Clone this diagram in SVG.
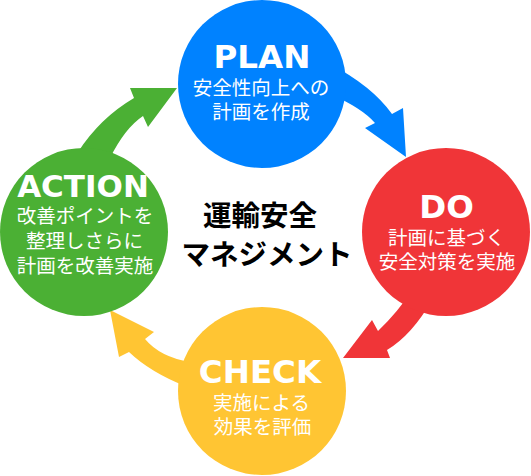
<svg xmlns="http://www.w3.org/2000/svg" width="531" height="476" viewBox="0 0 531 476">
<style>
.title{font-family:"DejaVu Sans",Verdana,sans-serif;font-weight:bold;font-size:32.5px;fill:#fff;text-anchor:middle}
.sub{font-family:"Noto Sans CJK JP","Noto Sans",sans-serif;font-size:19.5px;fill:#fff;text-anchor:middle}
.center{font-family:"Noto Sans CJK JP","Noto Sans",sans-serif;font-weight:bold;font-size:28.5px;fill:#000;text-anchor:middle}
.blue{fill:#0082FF}.red{fill:#F03538}.yellow{fill:#FFC533}.green{fill:#4BB034}
</style>
<rect width="531" height="476" fill="#fff"/>
<g id="connectors">
<path class="blue" d="M 330 64 Q 372 86 392 114 L 403 108 L 406 157 L 365 128 L 375 123 Q 362 108 330 94 Z"/>
<path class="red" d="M 412 290 Q 398 312 378 331 L 372 320 L 343 358 L 390 358 L 387 350 Q 412 335 432 300 Z"/>
<path class="yellow" d="M 190 362 Q 160 357 145 339 L 154 332 L 110 310 L 119 357 L 129 352 Q 150 372 185 386 Z"/>
<path class="green" d="M 78 152 Q 100 118 134 98 L 130 88 L 177 88 L 148 127 L 143 116 Q 125 128 110 158 Z"/>
</g>
<g id="plan">
<circle class="blue" cx="262" cy="84" r="84"/>
<text class="title" x="262" y="68">PLAN</text>
<text class="sub" x="261" y="95">安全性向上への</text>
<text class="sub" x="261" y="118.5">計画を作成</text>
</g>
<g id="do">
<circle class="red" cx="446" cy="232" r="84"/>
<text class="title" x="446.5" y="218">DO</text>
<text class="sub" x="446.5" y="244.5">計画に基づく</text>
<text class="sub" x="447" y="268.5">安全対策を実施</text>
</g>
<g id="check">
<circle class="yellow" cx="262" cy="391" r="84"/>
<text class="title" x="260" y="383">CHECK</text>
<text class="sub" x="261.5" y="409.5">実施による</text>
<text class="sub" x="262.5" y="433.5">効果を評価</text>
</g>
<g id="action">
<circle class="green" cx="84" cy="232" r="84"/>
<text class="title" x="83" y="197" style="font-size:31px">ACTION</text>
<text class="sub" x="85" y="222.5">改善ポイントを</text>
<text class="sub" x="84.5" y="247.5">整理しさらに</text>
<text class="sub" x="85" y="272.5">計画を改善実施</text>
</g>
<g id="title">
<text class="center" x="260" y="226">運輸安全</text>
<text class="center" x="267" y="265">マネジメント</text>
</g>
</svg>
